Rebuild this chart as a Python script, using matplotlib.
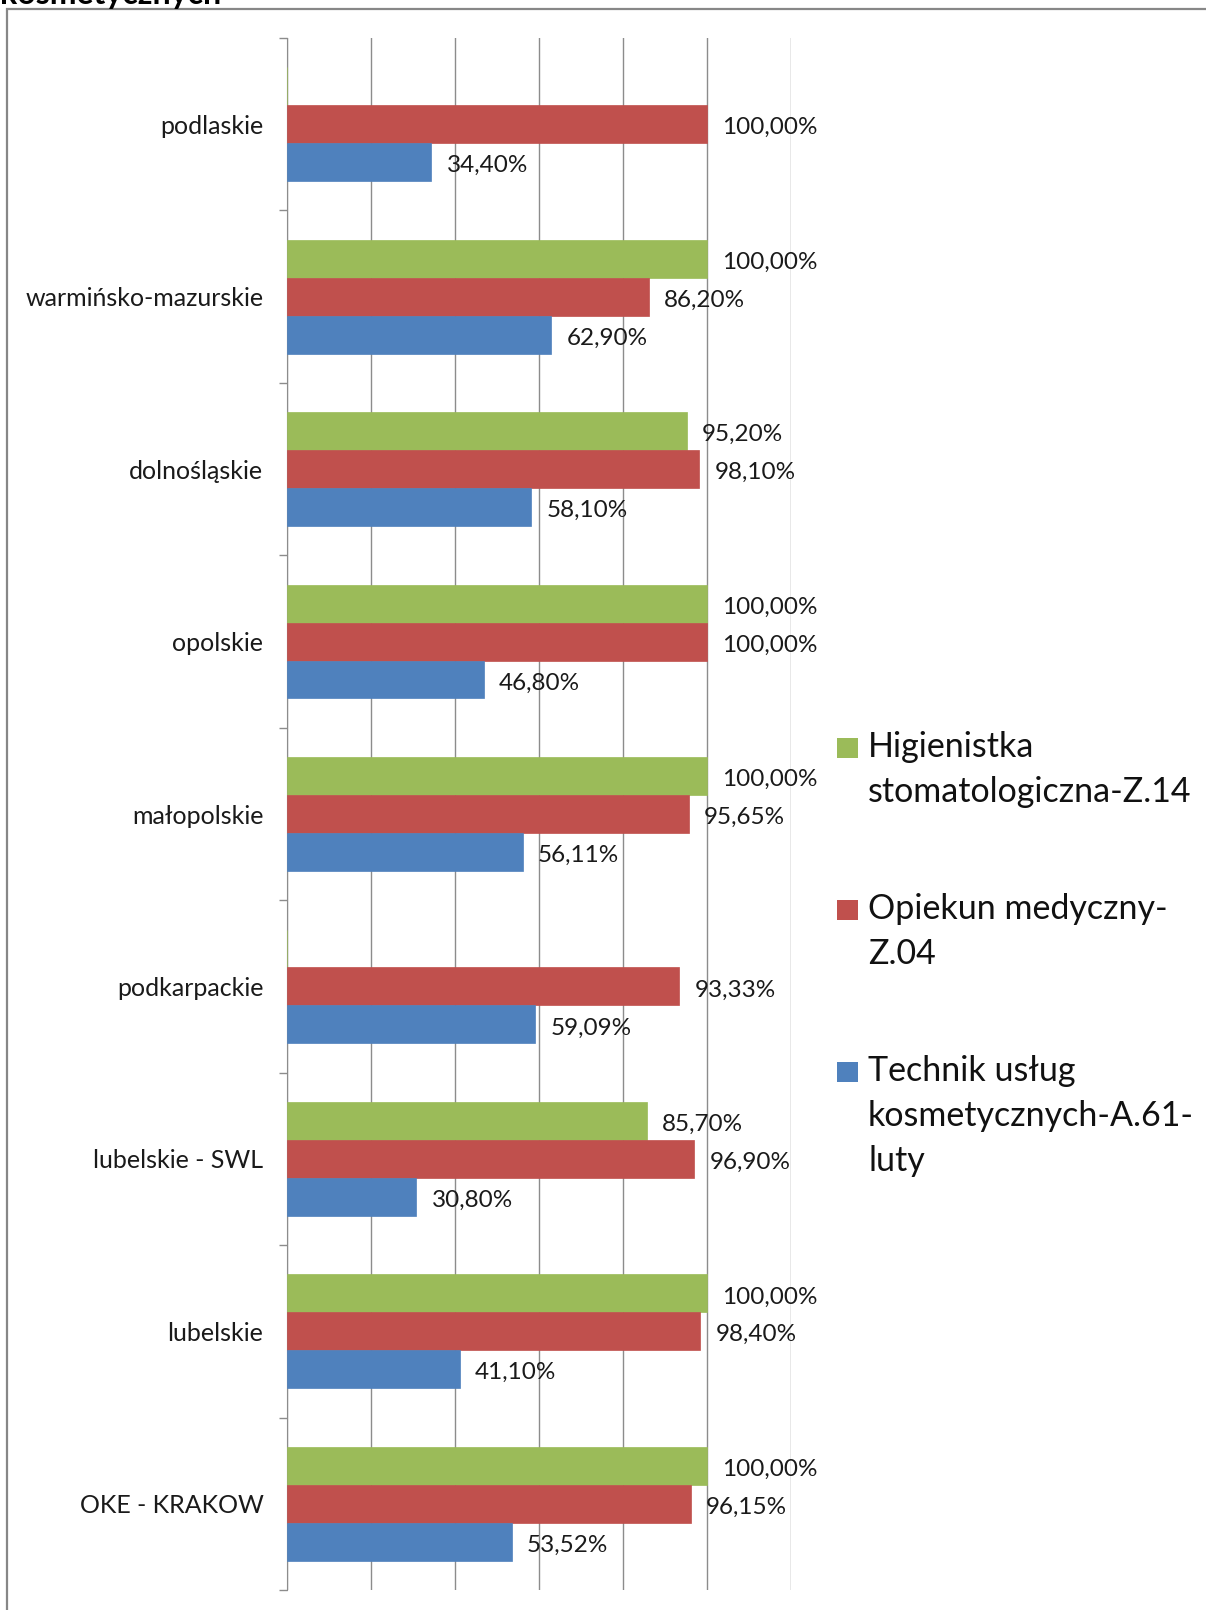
import matplotlib
matplotlib.use("Agg")
import matplotlib.pyplot as plt
import numpy as np
from matplotlib.patches import Rectangle

categories = ["podlaskie", "warmińsko-mazurskie", "dolnośląskie", "opolskie",
              "małopolskie", "podkarpackie", "lubelskie - SWL", "lubelskie", "OKE - KRAKOW"]
higienistka = [np.nan, 100.00, 95.20, 100.00, 100.00, np.nan, 85.70, 100.00, 100.00]
opiekun = [100.00, 86.20, 98.10, 100.00, 95.65, 93.33, 96.90, 98.40, 96.15]
technik = [34.40, 62.90, 58.10, 46.80, 56.11, 59.09, 30.80, 41.10, 53.52]
series_names = [["Higienistka", "stomatologiczna-Z.14"], ["Opiekun medyczny-", "Z.04"],
                ["Technik usług", "kosmetycznych-A.61-", "luty"]]
colors = ["#9BBB59", "#C0504D", "#4F81BD"]
xticks = [0, 20, 40, 60, 80, 100, 120]

plt.rcParams['font.family'] = ['Lato', 'DejaVu Sans']

W, H = 1206, 1610
fig = plt.figure(figsize=(W / 100, H / 100), dpi=100)

# chart area frame (cut by the figure edge, as in the reference)
fig.patches.append(Rectangle((7 / W, -0.1), 1.2, 1 - 9 / H + 0.1, transform=fig.transFigure,
                             fill=False, edgecolor="#878787", linewidth=1.6))
fig.text(0.0, 1 - 4 / H, "kosmetycznych", fontsize=23, fontweight="bold", va="baseline", ha="left")

ax = fig.add_axes([287 / W, 1 - 1590 / H, (791 - 287) / W, (1590 - 38) / H])
n = len(categories)
y = np.arange(n)
h = 0.22

def fmt(v):
    return "" if np.isnan(v) else f"{v:.2f}".replace(".", ",") + "%"

for vals, off, col in zip([higienistka, opiekun, technik], [-h, 0, h], colors):
    vals = np.array(vals, dtype=float)
    bars = ax.barh(y + off, np.nan_to_num(vals), height=h, color=col,
                   edgecolor=col, linewidth=0.5, zorder=3)
    labels = [fmt(v) for v in vals]
    anns = ax.bar_label(bars, labels=labels, padding=11, fontsize=17.5, color="#1a1a1a", zorder=4)
    for a in anns:
        a.xyann = (11, -2.5)

ax.set_xlim(0, 120)
ax.set_ylim(n - 0.5, -0.5)
ax.set_xticks(xticks)
ax.tick_params(axis="x", length=0, labelbottom=False)
ax.xaxis.grid(True, color="#8c8c8c", linewidth=1.0, zorder=0)
ax.set_axisbelow(True)
ax.set_yticks(y)
ax.set_yticklabels(categories, fontsize=18, color="#1a1a1a")
ax.set_yticks(np.arange(n + 1) - 0.5, minor=True)
ax.tick_params(axis="y", which="major", length=0, pad=17)
ax.tick_params(axis="y", which="minor", length=6, color="#8c8c8c", width=1.0)
for s in ["top", "right", "bottom"]:
    ax.spines[s].set_visible(False)
ax.spines["left"].set_color("#8c8c8c")

# legend: square marker aligned with the first line of each wrapped label
first_base = 757
entry_step = 162
line_step = 45
for i, (lines, col) in enumerate(zip(series_names, colors)):
    base = first_base + i * entry_step
    fig.patches.append(Rectangle((837 / W, 1 - (base + 1) / H), 21 / W, 20 / H,
                                 transform=fig.transFigure, facecolor=col, edgecolor="none"))
    for j, line in enumerate(lines):
        fig.text(868 / W, 1 - (base + j * line_step) / H, line, fontsize=24.5,
                 va="baseline", ha="left", color="#111111")

fig.savefig("out.png", dpi=100)
